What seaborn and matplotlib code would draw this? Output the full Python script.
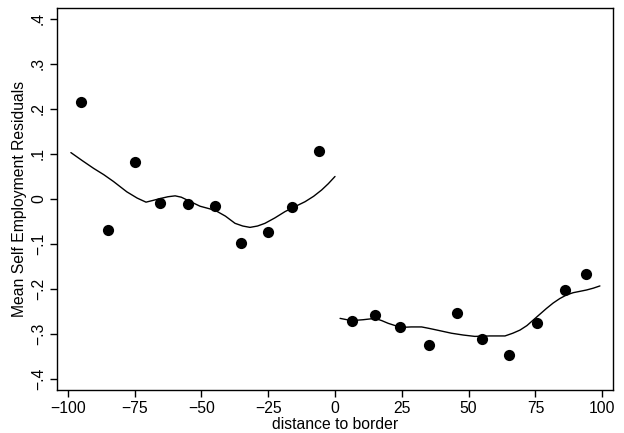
import matplotlib
matplotlib.use("Agg")
import matplotlib.pyplot as plt
import seaborn as sns
import pandas as pd

# Binned means (dots)
left_x = [-95, -85, -75, -65.5, -55, -45, -35, -25, -16, -6]
left_y = [0.216, -0.068, 0.083, -0.009, -0.011, -0.015, -0.098, -0.074, -0.018, 0.107]
right_x = [6.5, 15, 24.5, 35, 45.5, 55, 65, 75.5, 86, 94]
right_y = [-0.270, -0.258, -0.284, -0.324, -0.254, -0.311, -0.347, -0.275, -0.202, -0.167]

# Smoothed fits (lines)
left_fx = [-98.8, -94.5, -90.3, -86.5, -82.9, -77.9, -74.0, -70.7, -68.0, -65.4, -62.5,
           -59.8, -57.5, -55.4, -50.5, -44.9, -41.0, -37.4, -34.5, -31.8, -29.0, -26.2,
           -22.5, -18.7, -15.0, -11.2, -8.0, -5.0, -2.5, 0.0]
left_fy = [0.103, 0.085, 0.068, 0.054, 0.039, 0.016, 0.002, -0.007, -0.003, 0.001, 0.005,
           0.007, 0.004, -0.002, -0.016, -0.025, -0.038, -0.054, -0.060, -0.063, -0.060,
           -0.054, -0.042, -0.028, -0.017, -0.006, 0.006, 0.020, 0.034, 0.050]
right_fx = [1.9, 6.2, 10.5, 15.0, 17.5, 19.9, 22.5, 24.9, 28.5, 32.4, 35.0, 37.4, 40.5,
            43.6, 48.0, 52.3, 57.9, 63.6, 66.5, 69.2, 71.8, 74.1, 76.6, 79.1, 81.6, 84.1,
            86.6, 89.1, 91.6, 94.1, 96.6, 99.1]
right_fy = [-0.265, -0.270, -0.268, -0.265, -0.270, -0.276, -0.281, -0.285, -0.284,
            -0.284, -0.287, -0.290, -0.294, -0.298, -0.302, -0.305, -0.304, -0.304,
            -0.298, -0.291, -0.281, -0.269, -0.256, -0.243, -0.231, -0.221, -0.213,
            -0.208, -0.205, -0.202, -0.198, -0.193]

x_ticks = [-100, -75, -50, -25, 0, 25, 50, 75, 100]
x_labels = ["\u2212100", "\u221275", "\u221250", "\u221225", "0", "25", "50", "75", "100"]
y_ticks = [-0.4, -0.3, -0.2, -0.1, 0, 0.1, 0.2, 0.3, 0.4]
y_labels = ["\u2212.4", "\u2212.3", "\u2212.2", "\u2212.1", "0", ".1", ".2", ".3", ".4"]

sns.set_theme(style="white")
plt.rcParams['font.family'] = ['Liberation Sans', 'DejaVu Sans']

fig = plt.figure(figsize=(6.24, 4.33), dpi=100)
ax = fig.add_axes([57/624, 43/433, 556/624, 382/433])

dots = pd.DataFrame({"x": left_x + right_x, "y": left_y + right_y})
sns.scatterplot(data=dots, x="x", y="y", ax=ax, color="black", s=65, edgecolor="black",
                linewidth=0, zorder=3)
for fx, fy in [(left_fx, left_fy), (right_fx, right_fy)]:
    sns.lineplot(x=fx, y=fy, ax=ax, color="black", lw=1.0, sort=False, estimator=None,
                 solid_joinstyle="round", solid_capstyle="round")

ax.set_xlim(-104, 104)
ax.set_ylim(-0.424, 0.424)
ax.set_xticks(x_ticks)
ax.set_xticklabels(x_labels)
ax.set_yticks(y_ticks)
ax.set_yticklabels(y_labels, rotation=90, va="center")
ax.tick_params(axis="both", direction="out", length=5, width=1, color="black",
               labelsize=11.3, labelcolor="black", pad=3, bottom=True, left=True)
for sp in ax.spines.values():
    sp.set_color("black")
    sp.set_linewidth(1.0)
ax.set_xlabel("distance to border", fontsize=11.3, color="black", labelpad=0.5)
ax.set_ylabel("Mean Self Employment Residuals", fontsize=11.3, color="black", labelpad=3)
ax.grid(False)

fig.savefig("out.png", dpi=100, facecolor="white")
